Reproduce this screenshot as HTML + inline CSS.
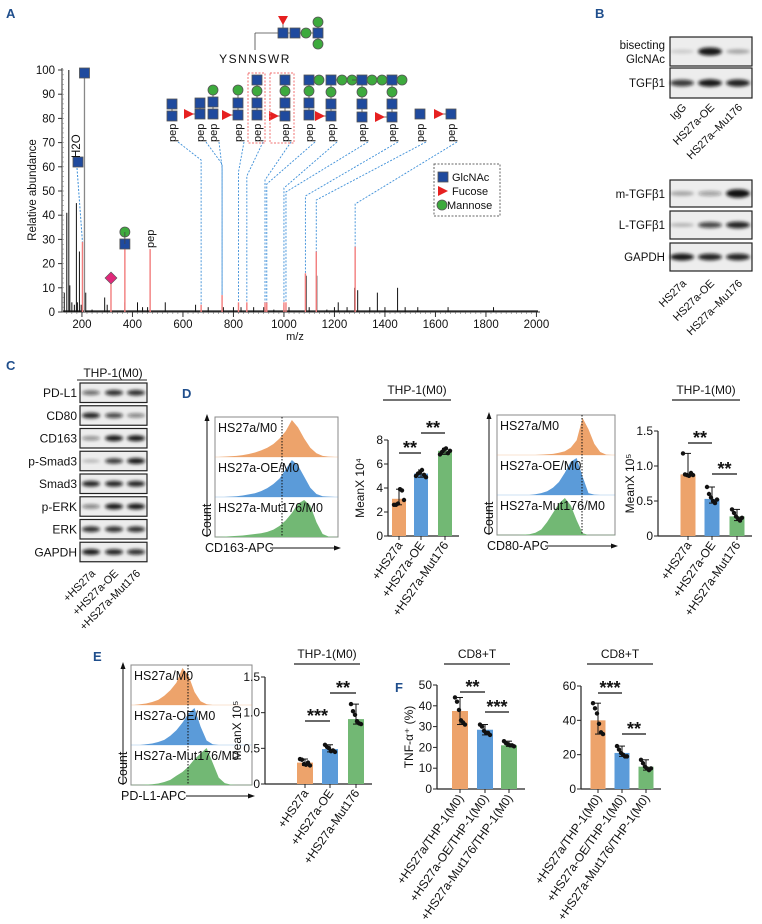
<!DOCTYPE html>
<html><head><meta charset="utf-8"><style>
html,body{margin:0;padding:0;background:#fff;}
svg{display:block;font-family:"Liberation Sans",Arial,sans-serif;}
</style></head><body>
<svg id="fig" width="762" height="924" viewBox="0 0 762 924" xmlns="http://www.w3.org/2000/svg">
<defs><filter id="blur" x="-30%" y="-60%" width="160%" height="220%"><feGaussianBlur stdDeviation="1.6"/></filter></defs>
</svg>
<script>
// ---------- DATA ----------
const specMz=[130,140,148,152,160,170,178,182,190,197,215,240,290,300,370,420,440,460,530,650,700,760,800,830,880,920,960,1000,1020,1088,1100,1130,1170,1200,1215,1250,1280,1292,1340,1370,1400,1450,1480,1530,1650,1830];
const specInt=[8,41,100,11,4,3,45,4,25,3,8,1,6,3,4,4,2,2,4,3,2,2,2,2,2,2,1,3,2,15,2,15,1,2,4,2,10,9,2,8,2,10,2,2,2,2];
const redMz=[202,315,370,470,672,755,820,853,925,932,1000,1008,1085,1128,1282];
const redInt=[29,12,26,26,3,7,4,4,4,4,4,4,16,25,27];
const yTicksA=[0,10,20,30,40,50,60,70,80,90,100];
const xTicksA=[200,400,600,800,1000,1200,1400,1600,1800,2000];

const d1Cats=['+HS27a','+HS27a-OE','+HS27a-Mut176'];
const d1Vals=[3.1,5.2,7.1];
const d1Pts=[[2.6,2.6,2.7,3.9,3.8,3.0],[5.0,5.2,5.3,5.5,5.1,4.9],[6.8,7.0,7.2,7.3,6.9,7.1]];
const d1Ticks=[0,2,4,6,8];
const d2Vals=[0.88,0.53,0.28];
const d2Pts=[[1.18,0.88,0.87,0.86,0.9,0.87],[0.7,0.6,0.55,0.5,0.47,0.52],[0.38,0.33,0.28,0.25,0.22,0.26]];
const d2Ticks=[0,0.5,1.0,1.5];
const eVals=[0.3,0.49,0.91];
const ePts=[[0.35,0.34,0.28,0.27,0.3,0.26],[0.55,0.52,0.5,0.46,0.47,0.45],[1.12,1.02,0.97,0.88,0.85,0.84]];
const eTicks=[0,0.5,1.0,1.5];
const fCats=['+HS27a/THP-1(M0)','+HS27a-OE/THP-1(M0)','+HS27a-Mut176/THP-1(M0)'];
const f1Vals=[37.5,28.5,21];
const f1Pts=[[44,42,38,33,32,31],[31,30,28,27,27,26],[23,22,21.5,21,21,20.5]];
const f1Ticks=[0,10,20,30,40,50];
const f2Vals=[40,21,13];
const f2Pts=[[50,47,44,38,33,32],[25,23,21,20,19,19],[17,15,13,12,11,12]];
const f2Ticks=[0,20,40,60];

const hCd163O=[0,.01,.02,.03,.05,.08,.12,.18,.25,.35,.5,.7,1,.8,.5,.25,.1,.03,.01,0];
const hCd163B=[0,0,.01,.02,.04,.07,.1,.16,.24,.35,.5,.75,1,.85,.55,.25,.08,.02,.01,0];
const hCd163G=[0,.01,.02,.03,.04,.06,.08,.1,.14,.2,.3,.45,.65,.9,1,.85,.4,.08,.01,0];
const hCd80O=[0,0,0,0,0,0,0,.01,.02,.03,.06,.1,.2,.4,1,.7,.3,.08,.01,0];
const hCd80B=[0,0,0,0,0,0,.02,.05,.1,.2,.35,.6,.9,1,.5,.05,.01,0,0,0];
const hCd80G=[0,0,0,0,.01,.02,.06,.15,.35,.6,.85,1,.8,.4,.05,0,0,0,0,0];
const hPdO=[0,.02,.04,.08,.14,.25,.4,.6,1,.8,.35,.1,.02,0,0,0,0,0,0,0];
const hPdB=[0,0,.02,.04,.08,.14,.25,.4,.6,.85,1,.5,.12,.02,0,0,0,0,0,0];
const hPdG=[0,0,.01,.02,.04,.08,.14,.25,.35,.5,.7,.85,1,.6,.2,.05,.01,0,0,0];

const blotCRows=['PD-L1','CD80','CD163','p-Smad3','Smad3','p-ERK','ERK','GAPDH'];
const blotCInt=[[.6,.85,.85],[.9,.75,.5],[.45,.95,.95],[.25,.8,.95],[.9,.9,.9],[.5,.95,.95],[.85,.85,.85],[.95,.9,.85]];

const C_OR='#EDA36B', C_BL='#5B9BD9', C_GR='#72B874';

// ---------- HELPERS ----------
const NS='http://www.w3.org/2000/svg';
const svg=document.getElementById('fig');
function mk(tag,a,p){const e=document.createElementNS(NS,tag);for(const k in a)e.setAttribute(k,a[k]);(p||svg).appendChild(e);return e;}
function tx(x,y,s,a,p){const e=mk('text',Object.assign({x:x,y:y,'font-size':11,fill:'#111'},a||{}),p);e.textContent=s;return e;}
function grp(name){const g=mk('g',{});return g;}
function label(x,y,s){const t=tx(x,y,s,{'font-size':13,'font-weight':'bold',fill:'#1F4E8C'});}

// ---------- PANEL A ----------
label(6,18,'A');
const gA=grp('mass-spectrum-panel');
const xS=v=>62+(v-121)*0.2525, yS=v=>312-v*2.42;
mk('line',{x1:62,y1:yS(100)-2,x2:62,y2:312,stroke:'#333','stroke-width':1},gA);
mk('line',{x1:62,y1:312,x2:540,y2:312,stroke:'#333','stroke-width':1},gA);
for(let m=140;m<2000;m+=20){mk('line',{x1:xS(m),y1:312,x2:xS(m),y2:314,stroke:'#555','stroke-width':.5},gA);}
for(let v=0;v<=100;v+=2){mk('line',{x1:62,y1:yS(v),x2:64,y2:yS(v),stroke:'#777','stroke-width':.5},gA);}
yTicksA.forEach(v=>{mk('line',{x1:58,y1:yS(v),x2:62,y2:yS(v),stroke:'#333'},gA);const t=tx(55,yS(v)+4,String(v),{'text-anchor':'end','font-size':11.5},gA);});
xTicksA.forEach(v=>{mk('line',{x1:xS(v),y1:312,x2:xS(v),y2:317,stroke:'#333'},gA);const t=tx(xS(v),328,String(v),{'text-anchor':'middle','font-size':11.5},gA);});
const yl=tx(0,0,'Relative abundance',{'text-anchor':'middle','font-size':11.5,transform:'translate(36,190) rotate(-90)'},gA);

const xl=tx(295,340,'m/z',{'text-anchor':'middle','font-size':11},gA);

mk('line',{x1:63,y1:311,x2:538,y2:311,stroke:'#222','stroke-width':1.2},gA);
specMz.forEach((m,i)=>{const l=mk('line',{x1:xS(m),y1:312,x2:xS(m),y2:yS(specInt[i]),stroke:'#111','stroke-width':1},gA);});
const tall=mk('line',{x1:xS(210),y1:312,x2:xS(210),y2:yS(97),stroke:'#888','stroke-width':1.3},gA);

redMz.forEach((m,i)=>{const l=mk('line',{x1:xS(m),y1:312,x2:xS(m),y2:yS(redInt[i]),stroke:'#F27C7C','stroke-width':1.4},gA);});
function sq(x,y,p){const r=mk('rect',{x:x-5,y:y-5,width:10,height:10,fill:'#1F4A9E',stroke:'#555','stroke-width':.8},p);}
function ci(x,y,p){const c=mk('circle',{cx:x,cy:y,r:5,fill:'#3DAA3D',stroke:'#555','stroke-width':.8},p);}
function tr(x,y,p){const t=mk('polygon',{points:`${x-5},${y-5} ${x+5},${y} ${x-5},${y+5}`,fill:'#E62020'},p);}
function ln(x1,y1,x2,y2,p){mk('line',{x1,y1,x2,y2,stroke:'#444','stroke-width':.8},p);}
const gT=grp('glycopeptide-structure');
ln(255,50,255,33,gT);ln(255,33,318,33,gT);ln(318,22,318,43,gT);ln(283,20,283,33,gT);
mk('polygon',{points:'278,16 288,16 283,25',fill:'#E62020'},gT);
sq(283,33,gT);sq(295,33,gT);ci(306,33,gT);sq(318,33,gT);ci(318,22,gT);ci(318,44,gT);
const seq=tx(255,63,'YSNNSWR',{'text-anchor':'middle','font-size':12,'letter-spacing':'1.5'},gT);

const cols=[172,200,213,238,257,285,309,331,362,392,420,451];
const colPeak=[672,755,755,820,853,925,932,1000,1008,1085,1128,1282];
const gF=grp('fragment-annotations');
cols.forEach((x,i)=>{
  const px=xS(colPeak[i]);const k=redMz.indexOf(colPeak[i]);
  const pl=mk('polyline',{points:`${x+6},142 ${px},${160+i*4} ${px},${yS(redInt[k])}`,fill:'none',stroke:'#3B8ED8','stroke-width':.9,'stroke-dasharray':'2,1.5'},gF);
  
  const t=tx(0,0,'pep',{'font-size':11,'text-anchor':'start',transform:`translate(${x+4},142) rotate(-90)`},gF);
  
});
ln(172,104,172,116,gF);sq(172,104,gF);sq(172,116,gF);
ln(189,114,200,114,gF);tr(189,114,gF);ln(200,103,200,114,gF);sq(200,103,gF);sq(200,114,gF);
ln(213,90,213,114,gF);ci(213,90,gF);sq(213,102,gF);sq(213,114,gF);
ln(227,115,238,115,gF);tr(227,115,gF);ln(238,90,238,115,gF);ci(238,90,gF);sq(238,103,gF);sq(238,115,gF);
ln(257,80,257,115,gF);sq(257,80,gF);ci(257,91,gF);sq(257,103,gF);sq(257,115,gF);
ln(274,116,285,116,gF);tr(274,116,gF);ln(285,80,285,116,gF);sq(285,80,gF);ci(285,91,gF);sq(285,103,gF);sq(285,116,gF);
ln(309,80,319,80,gF);ln(309,80,309,115,gF);sq(309,80,gF);ci(319,80,gF);ci(309,91,gF);sq(309,103,gF);sq(309,115,gF);
ln(320,116,331,116,gF);tr(320,116,gF);ln(331,80,352,80,gF);ln(331,80,331,116,gF);sq(331,80,gF);ci(342,80,gF);ci(352,80,gF);ci(331,92,gF);sq(331,104,gF);sq(331,116,gF);
ln(352,80,372,80,gF);ln(362,80,362,117,gF);sq(362,80,gF);ci(372,80,gF);ci(362,92,gF);sq(362,104,gF);sq(362,117,gF);
ln(380,117,392,117,gF);tr(380,117,gF);ln(382,80,402,80,gF);ln(392,80,392,117,gF);ci(382,80,gF);sq(392,80,gF);ci(402,80,gF);ci(392,92,gF);sq(392,104,gF);sq(392,117,gF);
sq(420,114,gF);
ln(439,114,451,114,gF);tr(439,114,gF);sq(451,114,gF);
mk('rect',{x:248,y:73,width:17,height:70,fill:'none',stroke:'#F07070','stroke-dasharray':'2,1.5'},gF);
mk('rect',{x:270,y:73,width:24,height:70,fill:'none',stroke:'#F07070','stroke-dasharray':'2,1.5'},gF);
mk('line',{x1:77,y1:168,x2:xS(202),y2:yS(29),stroke:'#3B8ED8','stroke-dasharray':'2,1.5'},gF);
sq(78,162,gF);sq(xS(210),73,gF);
const h2o=tx(0,0,'H2O',{'font-size':11.5,transform:'translate(80,158) rotate(-90)'},gF);

mk('polygon',{points:`${xS(315)},272 ${xS(315)+6},278 ${xS(315)},284 ${xS(315)-6},278`,fill:'#E0287A',stroke:'#555','stroke-width':.6},gF);
sq(xS(370),244,gF);ci(xS(370),232,gF);ln(xS(370),232,xS(370),244,gF);
const p2=tx(0,0,'pep',{'font-size':11,transform:`translate(${xS(470)+4},248) rotate(-90)`},gF);

const gL=grp('symbol-legend');
mk('rect',{x:434,y:164,width:66,height:52,fill:'none',stroke:'#666','stroke-dasharray':'2,1.5'},gL);
sq(443,177,gL);tx(452,181,'GlcNAc',{'font-size':11},gL);
tr(443,191,gL);tx(452,195,'Fucose',{'font-size':11},gL);
ci(442,205,gL);tx(447,209,'Mannose',{'font-size':11},gL);

// ---------- BLOTS ----------
function blot(x,y,w,h,lanes,ints,name,bw,scale){
  const g=grp(name);
  mk('rect',{x:x,y:y,width:w,height:h,fill:'#EDEDED',stroke:'#222','stroke-width':1.2},g);
  const s=scale||0.18;
  lanes.forEach((lx,i)=>{if(ints[i]<=0)return;const b=mk('ellipse',{cx:lx,cy:y+h/2,rx:(bw||10),ry:Math.max(1.5,h*s*(0.6+ints[i])),fill:'#111','fill-opacity':ints[i],filter:'url(#blur)'},g);});
  return g;
}
function rlab(x,y,s,g,fs){const t=tx(0,0,s,{'font-size':fs||11,'text-anchor':'end',transform:`translate(${x},${y}) rotate(-45)`},g);}
label(595,18,'B');
const bL=[682,710,738];
blot(670,37,82,29,bL,[.15,.95,.3],'blot-bisecting-glcnac',12,0.09);
blot(670,68,82,30,bL,[.8,.95,.9],'blot-tgfb1-ip',12,0.08);
tx(665,49,'bisecting',{'text-anchor':'end','font-size':11.5});tx(665,63,'GlcNAc',{'text-anchor':'end','font-size':11.5});
tx(665,87,'TGFβ1',{'text-anchor':'end','font-size':11.5});
const gBL=grp('blot-b-lane-labels');
rlab(bL[0]+5,108,'IgG',gBL);rlab(bL[1]+5,108,'HS27a-OE',gBL);rlab(bL[2]+5,108,'HS27a–Mu176',gBL);
blot(670,180,82,27,bL,[.3,.35,.98],'blot-m-tgfb1',12,0.1);
blot(670,211,82,28,bL,[.25,.75,.9],'blot-l-tgfb1',12,0.08);
blot(670,243,82,28,bL,[.95,.9,.9],'blot-gapdh-b',12,0.08);
tx(665,198,'m-TGFβ1',{'text-anchor':'end','font-size':11.5});
tx(665,229,'L-TGFβ1',{'text-anchor':'end','font-size':11.5});
tx(665,261,'GAPDH',{'text-anchor':'end','font-size':11.5});
const gBL2=grp('blot-b2-lane-labels');
rlab(bL[0]+5,284,'HS27a',gBL2);rlab(bL[1]+5,284,'HS27a-OE',gBL2);rlab(bL[2]+5,284,'HS27a–Mu176',gBL2);

label(6,370,'C');
const cT=tx(113,377,'THP-1(M0)',{'text-anchor':'middle','font-size':12});

mk('line',{x1:77,y1:380,x2:147,y2:380,stroke:'#222'});
const cL=[91,114,136];
blotCRows.forEach((r,i)=>{const y=383+i*22.75;blot(80,y,67,19.5,cL,blotCInt[i],'blot-'+r.toLowerCase(),9,0.1);tx(77,y+14,r,{'text-anchor':'end','font-size':12});});
const gCL=grp('blot-c-lane-labels');
rlab(cL[0]+5,574,'+HS27a',gCL);rlab(cL[1]+5,574,'+HS27a-OE',gCL);rlab(cL[2]+5,574,'+HS27a-Mut176',gCL);

// ---------- HISTOGRAMS ----------
function hist(x0,x1,top,lanes,arrs,names,dotX,xlab,name){
  const g=grp(name);const lh=40;const w=x1-x0;
  mk('rect',{x:x0,y:top,width:w,height:lh*3,fill:'#fff',stroke:'#888','stroke-width':1},g);
  const cs=[C_OR,C_BL,C_GR];
  arrs.forEach((a,k)=>{
    const base=top+lh*(k+1);const n=a.length;const bw=w/n;
    let d=`M${x0},${base}`;
    a.forEach((v,i)=>{const xa=x0+(i+0.5)*bw,yv=base-v*(lh-3);d+=` L${xa},${yv}`;});
    d+=` L${x1},${base} Z`;
    const p=mk('path',{d:d,fill:cs[k],stroke:'none'},g);
    mk('line',{x1:x0,y1:base,x2:x1,y2:base,stroke:cs[k],'stroke-width':.6,'stroke-opacity':.6},g);
    const t=tx(x0+3,top+lh*k+15,names[k],{'font-size':12.5},g);
  });
  mk('line',{x1:dotX,y1:top,x2:dotX,y2:top+lh*3,stroke:'#111','stroke-dasharray':'1.5,1.5'},g);
  mk('line',{x1:x0-8,y1:top+lh*3,x2:x0-8,y2:top,stroke:'#111'},g);
  mk('polygon',{points:`${x0-8},${top-3} ${x0-10.5},${top+4} ${x0-5.5},${top+4}`,fill:'#111'},g);
  const c=tx(0,0,'Count',{'font-size':12.5,transform:`translate(${x0-4},${top+lh*3}) rotate(-90)`},g);
  const xt=tx(x0-10,top+lh*3+15,xlab,{'font-size':12.5},g);
  const tw=xlab.length*7;
  mk('line',{x1:x0-8+tw,y1:top+lh*3+11,x2:x1,y2:top+lh*3+11,stroke:'#111'},g);
  mk('polygon',{points:`${x1+3},${top+lh*3+11} ${x1-4},${top+lh*3+8.5} ${x1-4},${top+lh*3+13.5}`,fill:'#111'},g);
}
label(182,398,'D');
hist(215,338,417,3,[hCd163O,hCd163B,hCd163G],['HS27a/M0','HS27a-OE/M0','HS27a-Mut176/M0'],282,'CD163-APC','histogram-cd163');
hist(497,615,415,3,[hCd80O,hCd80B,hCd80G],['HS27a/M0','HS27a-OE/M0','HS27a-Mut176/M0'],582,'CD80-APC','histogram-cd80');
label(93,661,'E');
hist(131,252,665,3,[hPdO,hPdB,hPdG],['HS27a/M0','HS27a-OE/M0','HS27a-Mut176/M0'],188,'PD-L1-APC','histogram-pdl1');

// ---------- BAR CHARTS ----------
function bars(o){
  const g=grp(o.name);
  const yv=v=>o.y0-(v/o.max)*(o.y0-o.yTop);
  const cs=[C_OR,C_BL,C_GR];
  mk('line',{x1:o.ax,y1:yv(o.max),x2:o.ax,y2:o.y0,stroke:'#222','stroke-width':1.2},g);
  mk('line',{x1:o.ax,y1:o.y0,x2:o.cx[2]+o.bw,y2:o.y0,stroke:'#222','stroke-width':1.2},g);
  o.ticks.forEach(t=>{mk('line',{x1:o.ax-4,y1:yv(t),x2:o.ax,y2:yv(t),stroke:'#222'},g);const l=tx(o.ax-5,yv(t)+4,o.fmt(t),{'text-anchor':'end','font-size':12},g);});
  const yt=tx(0,0,o.ylab,{'font-size':12,'text-anchor':'middle',transform:`translate(${o.ax-24},${(o.y0+o.yTop)/2}) rotate(-90)`},g);
  
  const jit=[-5,-3,-1,1,3,5];
  o.vals.forEach((v,i)=>{
    const b=mk('rect',{x:o.cx[i]-o.bw/2,y:yv(v),width:o.bw,height:o.y0-yv(v),fill:cs[i]},g);
    
    const mx=Math.max(...o.pts[i]),mn=Math.min(...o.pts[i]);
    mk('line',{x1:o.cx[i],y1:yv(mx),x2:o.cx[i],y2:yv(mn),stroke:'#111'},g);
    mk('line',{x1:o.cx[i]-3,y1:yv(mx),x2:o.cx[i]+3,y2:yv(mx),stroke:'#111'},g);
    mk('line',{x1:o.cx[i]-3,y1:yv(mn),x2:o.cx[i]+3,y2:yv(mn),stroke:'#111'},g);
    o.pts[i].forEach((p,j)=>{const d=mk('circle',{cx:o.cx[i]+jit[j],cy:yv(p),r:2.2,fill:'#111'},g);});
    mk('line',{x1:o.cx[i],y1:o.y0,x2:o.cx[i],y2:o.y0+4,stroke:'#222'},g);
    const cl=tx(0,0,o.cats[i],{'font-size':12,'text-anchor':'end',transform:`translate(${o.cx[i]+4},${o.y0+9}) rotate(-55)`},g);
    
  });
  o.sig.forEach(s=>{mk('line',{x1:o.cx[s[0]],y1:s[2],x2:o.cx[s[1]],y2:s[2],stroke:'#111','stroke-width':1.2},g);const t=tx((o.cx[s[0]]+o.cx[s[1]])/2,s[2]+1,s[3],{'font-size':18,'text-anchor':'middle','font-weight':'bold'},g);});
  const tt=tx(o.titleX,o.titleY,o.title,{'font-size':12,'text-anchor':'middle'},g);
  
  mk('line',{x1:o.titleX-o.tl,y1:o.titleY+6,x2:o.titleX+o.tl,y2:o.titleY+6,stroke:'#222','stroke-width':1.2},g);
}
const f1=t=>String(t), f2=t=>t===0?'0':t.toFixed(1);
bars({name:'bar-chart-cd163',ax:388,y0:536,yTop:440,max:8,ticks:d1Ticks,fmt:f1,ylab:'MeanX 10⁴',cx:[399,421,445],bw:14,vals:d1Vals,pts:d1Pts,cats:d1Cats,sig:[[0,1,453,'**'],[1,2,433,'**']],title:'THP-1(M0)',titleX:417,titleY:394,tl:34});
bars({name:'bar-chart-cd80',ax:658,y0:536,yTop:431,max:1.5,ticks:d2Ticks,fmt:f2,ylab:'MeanX 10⁵',cx:[688,712,737],bw:15,vals:d2Vals,pts:d2Pts,cats:d1Cats,sig:[[0,1,443,'**'],[1,2,474,'**']],title:'THP-1(M0)',titleX:706,titleY:394,tl:34});
bars({name:'bar-chart-pdl1',ax:265,y0:784,yTop:677,max:1.5,ticks:eTicks,fmt:f2,ylab:'MeanX 10⁵',cx:[305,330,356],bw:16,vals:eVals,pts:ePts,cats:d1Cats,sig:[[0,1,721,'***'],[1,2,693,'**']],title:'THP-1(M0)',titleX:327,titleY:658,tl:33});
label(395,692,'F');
bars({name:'bar-chart-tnf',ax:437,y0:789,yTop:685,max:50,ticks:f1Ticks,fmt:f1,ylab:'TNF-α⁺ (%)',cx:[460,485,509],bw:16,vals:f1Vals,pts:f1Pts,cats:fCats,sig:[[0,1,692,'**'],[1,2,712,'***']],title:'CD8+T',titleX:477,titleY:658,tl:33});
bars({name:'bar-chart-cd8-2',ax:581,y0:789,yTop:686,max:60,ticks:f2Ticks,fmt:f1,ylab:'',cx:[598,622,646],bw:15,vals:f2Vals,pts:f2Pts,cats:fCats,sig:[[0,1,693,'***'],[1,2,734,'**']],title:'CD8+T',titleX:620,titleY:658,tl:33});
</script>
</body></html>
